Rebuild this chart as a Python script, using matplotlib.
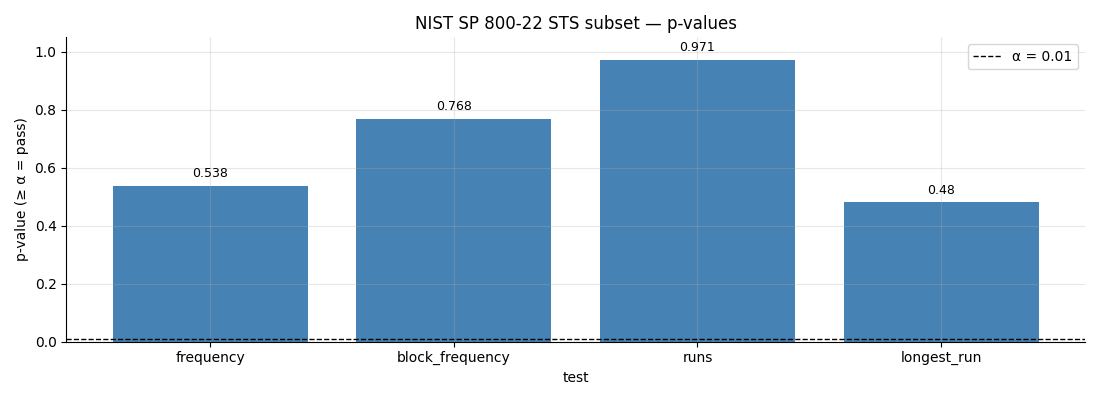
import matplotlib
matplotlib.use('Agg')
import matplotlib.pyplot as plt

# STS test results
tests = ['frequency', 'block_frequency', 'runs', 'longest_run']
p_values = [0.538, 0.768, 0.971, 0.48]
alpha = 0.01

fig, ax = plt.subplots(figsize=(11, 4), dpi=100)
bars = ax.bar(tests, p_values, color='steelblue')
ax.axhline(alpha, color='black', linestyle='--', linewidth=1, label=f'α = {alpha}')

# value labels above bars
for b, p in zip(bars, p_values):
    ax.text(b.get_x() + b.get_width() / 2, p + 0.02, str(p),
            ha='center', va='bottom', fontsize=9)

ax.set_ylim(0, 1.05)
ax.set_title('NIST SP 800-22 STS subset — p-values')
ax.set_xlabel('test')
ax.set_ylabel('p-value (≥ α = pass)')
ax.grid(True, alpha=0.3)
ax.spines['top'].set_visible(False)
ax.spines['right'].set_visible(False)
ax.legend(loc='upper right')
plt.tight_layout()
plt.savefig('out.png')
plt.close()
